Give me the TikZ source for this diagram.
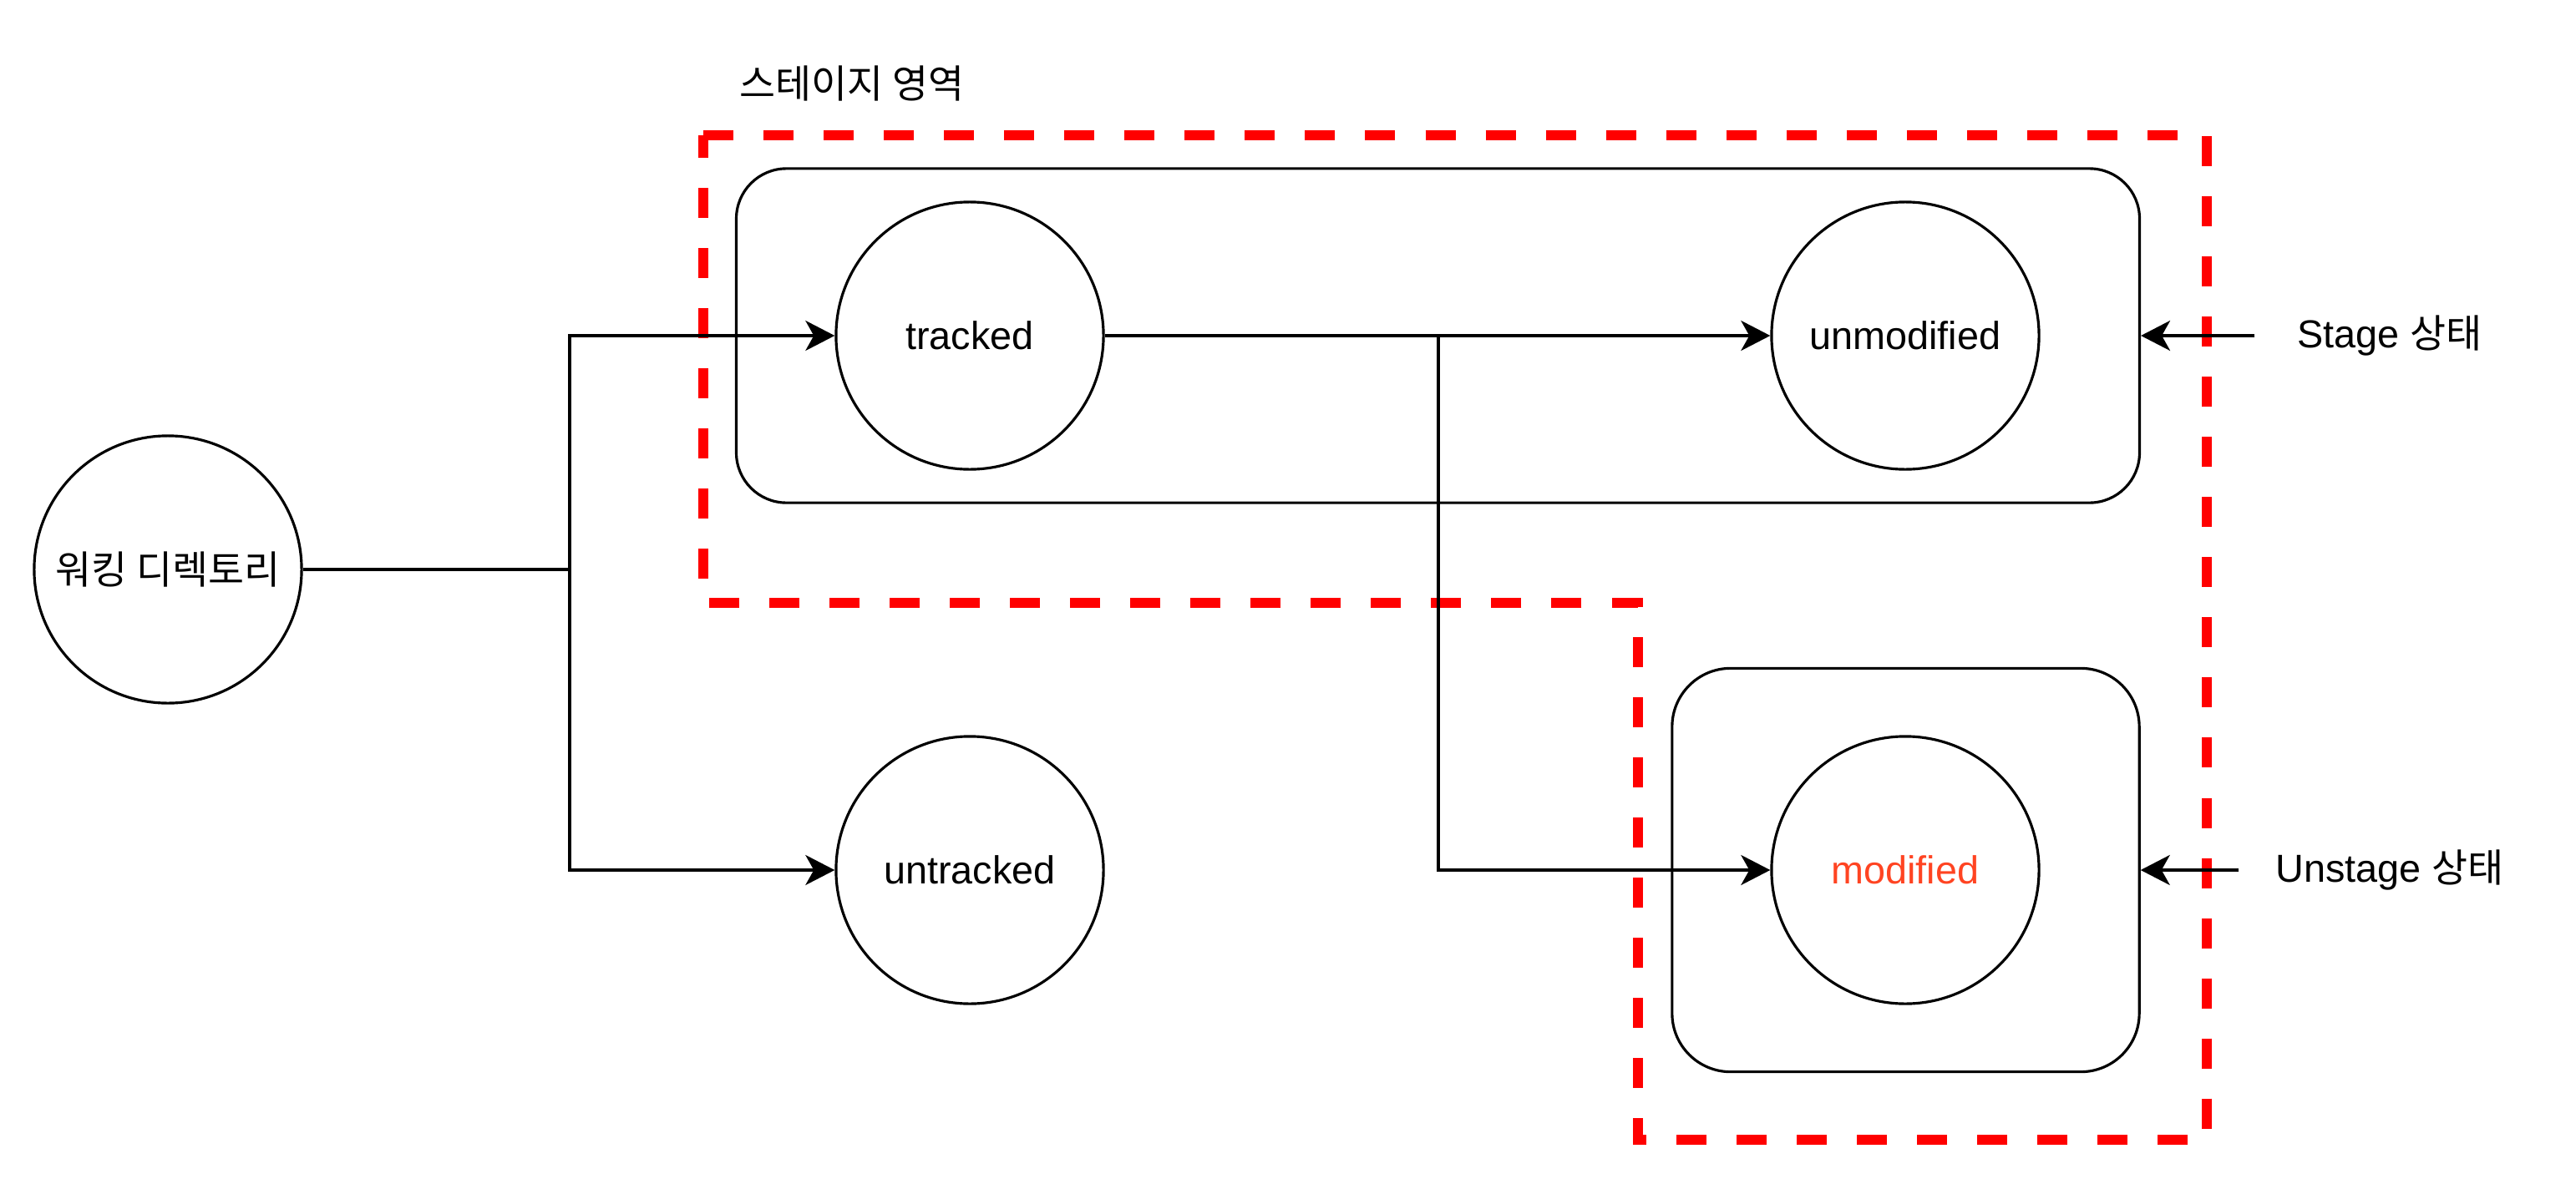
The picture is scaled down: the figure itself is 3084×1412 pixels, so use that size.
\documentclass[tikz,border=0pt]{standalone}
\usepackage{fontspec}
\setmainfont{Liberation Sans}
\newfontfamily\krfont{Noto Sans CJK KR}
\usetikzlibrary{arrows.meta}
\definecolor{modcol}{RGB}{255,68,34}

\begin{document}
\begin{tikzpicture}[x=0.01cm, y=-0.01cm, line width=0.9pt,
    every node/.style={font=\fontsize{13.3pt}{16pt}\selectfont},
    state/.style={circle, draw, fill=white, minimum size=3.2cm, inner sep=0pt},
    group/.style={draw, rounded corners=0.6cm, inner sep=0pt},
    conn/.style={-{Stealth[length=0.35cm,width=0.36cm,inset=0.1cm]}},
    area/.style={draw=red, line width=3.4pt, dash pattern=on 0.36cm off 0.36cm}]
            \useasboundingbox (0,0) rectangle (3084,1412);
            % stage area (dashed)
            \draw[area] (842,162) -- (2642,162) -- (2642,1365) -- (1961,1365) -- (1961,722) -- (842,722) -- cycle;
            \node (arealbl) at (1020,100) {\krfont 스테이지 영역};
            %groups
            \node[group, minimum width=16.79cm, minimum height=4cm] (stagebox) at (1721.5,402) {};
            \node[group, rounded corners=0.7cm, minimum width=5.59cm, minimum height=4.83cm] (unstagebox) at (2281.5,1042) {};
            %states
            \node[state] (wd) at (201,682) {\krfont 워킹 디렉토리};
            \node[state] (tracked) at (1161,402) {tracked};
            \node[state] (untracked) at (1161,1042) {untracked};
            \node[state] (unmodified) at (2281,402) {unmodified};
            \node[state, text=modcol] (modified) at (2281,1042) {modified};
            %labels
            \node[minimum width=3.2cm] (stagelbl) at (2861,402) {Stage {\krfont 상태}};
            \node[minimum width=3.58cm] (unstagelbl) at (2861,1042) {Unstage {\krfont 상태}};
            % connectors
            \coordinate (split) at (682,682);
            \coordinate (fork) at (1722,402);
            \draw (wd) -- (split);
            \draw[conn] (split) |- (tracked);
            \draw[conn] (split) |- (untracked);
            \draw[conn] (tracked) -- (unmodified);
            \draw[conn] (fork) |- (modified);
            \draw[conn] (stagelbl) -- (stagebox);
            \draw[conn] (unstagelbl) -- (unstagebox);
        \end{tikzpicture}
\end{document}
